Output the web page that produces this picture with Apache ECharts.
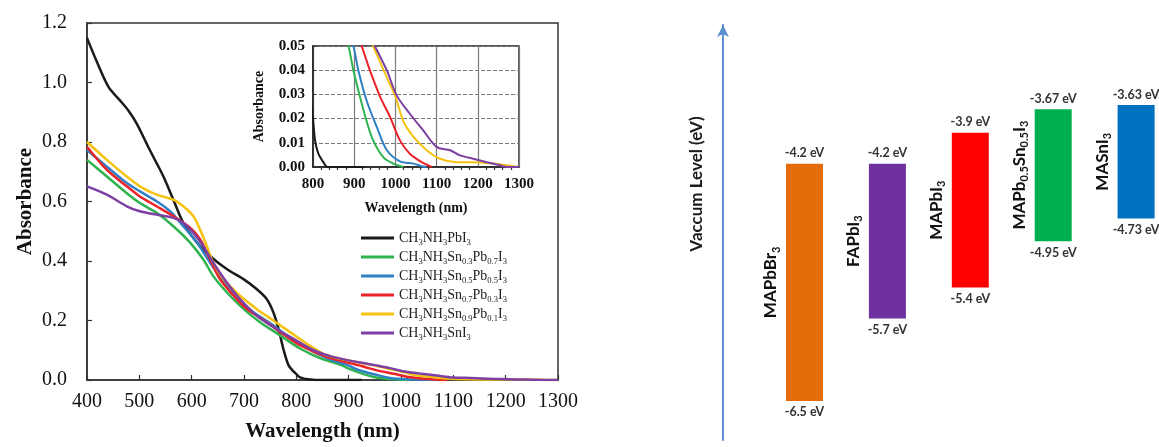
<!DOCTYPE html>
<html>
<head>
<meta charset="utf-8">
<script src="https://cdn.jsdelivr.net/npm/echarts@6.0.0/dist/echarts.min.js"></script>
<style>
html,body{margin:0;padding:0;background:#fff;}
#chart{width:1159px;height:447px;}
</style>
</head>
<body>
<div id="chart"></div>
<script>
// ---------- Absorbance spectra: [wavelength (nm), absorbance] ----------
const seriesNames = ['CH3NH3PbI3','CH3NH3Sn0.3Pb0.7I3','CH3NH3Sn0.5Pb0.5I3','CH3NH3Sn0.7Pb0.3I3','CH3NH3Sn0.9Pb0.1I3','CH3NH3SnI3'];
const specPb = [[400,1.15],[418,1.073],[441,0.985],[463,0.94],[479,0.906],[495,0.862],[520,0.773],[546,0.684],[565,0.606],[584,0.528],[610,0.462],[635,0.417],[667,0.373],[699,0.339],[724,0.306],[743,0.273],[756,0.228],[766,0.172],[775,0.106],[785,0.05],[795,0.028],[800,0.02],[805,0.011],[813,0.0055],[825,0.002],[835,0],[880,0],[925,0]];
const specSn03 = [[400,0.74],[438,0.684],[476,0.628],[501,0.595],[533,0.562],[565,0.517],[597,0.462],[622,0.406],[641,0.35],[667,0.295],[699,0.239],[730,0.195],[769,0.15],[807,0.106],[845,0.074],[886,0.05],[898,0.04],[914,0.029],[930,0.019],[946,0.011],[971,0.004],[995,0.0014],[1019,0]];
const specSn05 = [[400,0.773],[438,0.717],[476,0.662],[501,0.634],[533,0.601],[559,0.567],[584,0.517],[610,0.462],[635,0.395],[661,0.328],[686,0.273],[718,0.228],[756,0.184],[794,0.133],[833,0.095],[866,0.068],[898,0.05],[910,0.04],[930,0.0275],[955,0.0165],[979,0.007],[1011,0.0023],[1044,0.0014],[1064,0.0003],[1076,0]];
const specSn07 = [[400,0.784],[438,0.706],[476,0.651],[501,0.617],[533,0.584],[565,0.551],[597,0.512],[616,0.473],[635,0.406],[654,0.339],[680,0.284],[705,0.239],[743,0.195],[769,0.161],[807,0.117],[858,0.078],[918,0.05],[938,0.04],[963,0.029],[987,0.0207],[1011,0.011],[1035,0.0055],[1064,0.002],[1088,0]];
const specSn09 = [[400,0.80],[438,0.74],[476,0.684],[501,0.651],[533,0.623],[565,0.606],[584,0.584],[603,0.551],[616,0.506],[629,0.45],[641,0.395],[661,0.339],[692,0.284],[724,0.239],[756,0.2],[788,0.161],[820,0.122],[858,0.083],[946,0.05],[979,0.037],[999,0.0296],[1019,0.019],[1044,0.0124],[1076,0.0069],[1108,0.0034],[1149,0.002],[1189,0.002],[1238,0.0014],[1270,0.0007],[1298,0]];
const specSn10 = [[400,0.651],[438,0.623],[476,0.584],[501,0.567],[533,0.556],[565,0.545],[584,0.528],[603,0.495],[622,0.45],[641,0.395],[667,0.328],[692,0.273],[724,0.217],[756,0.178],[794,0.139],[833,0.1],[871,0.077],[950,0.05],[979,0.04],[1003,0.0296],[1035,0.022],[1068,0.015],[1100,0.0083],[1133,0.0069],[1157,0.0048],[1189,0.0034],[1222,0.002],[1254,0.0007],[1270,0],[1300,0]];
const spectra = [specPb, specSn03, specSn05, specSn07, specSn09, specSn10];
const lineColors = ['#1a1a1a','#2fb34e','#2f80c4','#ec2229','#f5c20f','#7c3fa3'];

// ---------- Energy levels (eV) ----------
const materials = ['MAPbBr3','FAPbI3','MAPbI3','MAPb0.5Sn0.5I3','MASnI3'];
const cbm = [-4.2, -4.2, -3.9, -3.67, -3.63];
const vbm = [-6.5, -5.7, -5.4, -4.95, -4.73];
const barColors = ['#e46c0a','#7030a0','#ff0000','#00b050','#0070c0'];

// turn numbers into subscript rich tokens
function richSub(s){
  return s.split(/(\d+(?:\.\d+)?)/).filter(p => p.length).map(p => /^\d/.test(p) ? '{s|' + p + '}' : '{n|' + p + '}').join('');
}

const serif = 'Liberation Serif';
const sans = 'Lato';

const chart = echarts.init(document.getElementById('chart'), null, {renderer: 'canvas'});

const mainSeries = spectra.map((d, i) => ({
  name: seriesNames[i], type: 'line', xAxisIndex: 0, yAxisIndex: 0, data: d,
  showSymbol: false, symbol: 'none', smooth: 0.3, z: 3,
  lineStyle: {color: lineColors[i], width: 2.5}, itemStyle: {color: lineColors[i]}
}));
const insetSeries = spectra.map((d, i) => ({
  name: seriesNames[i], type: 'line', xAxisIndex: 1, yAxisIndex: 1, data: d,
  showSymbol: false, symbol: 'none', smooth: 0.3, clip: true, z: 6,
  lineStyle: {color: lineColors[i], width: 2}, itemStyle: {color: lineColors[i]}
}));

const levelData = materials.map((m, i) => [i, cbm[i], vbm[i]]);

const option = {
  animation: false,
  backgroundColor: '#fff',
  legend: {
    data: seriesNames, orient: 'vertical', left: 356, top: 226,
    itemWidth: 33, itemHeight: 3, itemGap: 3, icon: 'rect',
    formatter: n => richSub(n),
    textStyle: {
      fontFamily: serif, color: '#222',
      rich: {
        n: {fontFamily: serif, fontSize: 14, color: '#222', lineHeight: 18},
        s: {fontFamily: serif, fontSize: 8.5, color: '#222', verticalAlign: 'bottom', lineHeight: 10}
      }
    },
    selectedMode: false
  },
  grid: [
    {left: 87, top: 23, width: 471, height: 359, show: true, borderColor: '#333', borderWidth: 1.5},
    {left: 313, top: 46, width: 206, height: 121, show: true, borderColor: '#222', borderWidth: 1.5},
    {left: 804.5, width: 331.6, top: 81.3, height: 350.6, show: false},
    {left: 723, top: 25, bottom: 7, width: 10, show: false}
  ],
  xAxis: [
    {gridIndex: 0, type: 'value', min: 400, max: 1300, interval: 100,
     name: 'Wavelength (nm)', nameLocation: 'middle', nameGap: 41,
     nameTextStyle: {fontFamily: serif, fontSize: 21, fontWeight: 'bold', color: '#111'},
     axisLine: {show: true, lineStyle: {color: '#333', width: 1.5}},
     axisTick: {show: true, inside: true, length: 5, lineStyle: {color: '#333', width: 1.2}},
     axisLabel: {fontFamily: serif, fontSize: 20, color: '#111', margin: 12, formatter: v => String(v)},
     splitLine: {show: false}},
    {gridIndex: 1, type: 'value', min: 800, max: 1300, interval: 100,
     name: 'Wavelength (nm)', nameLocation: 'middle', nameGap: 34,
     nameTextStyle: {fontFamily: serif, fontSize: 14, fontWeight: 'bold', color: '#111'},
     axisLine: {show: true, lineStyle: {color: '#222', width: 1.5}},
     axisTick: {show: false},
     minorTick: {show: true, splitNumber: 5, length: 3, lineStyle: {color: '#333', width: 1.2}},
     axisLabel: {fontFamily: serif, fontSize: 15, fontWeight: 'bold', color: '#111', margin: 10, formatter: v => String(v)},
     splitLine: {show: true, lineStyle: {color: '#7a7a7a', width: 1.2}}},
    {gridIndex: 2, type: 'value', min: 0, max: 4, show: false},
    {gridIndex: 3, type: 'value', min: 0, max: 1, show: false}
  ],
  yAxis: [
    {gridIndex: 0, type: 'value', min: 0, max: 1.2, interval: 0.2,
     name: 'Absorbance', nameLocation: 'middle', nameGap: 51, nameRotate: 90,
     nameTextStyle: {fontFamily: serif, fontSize: 21, fontWeight: 'bold', color: '#111'},
     axisLine: {show: true, lineStyle: {color: '#333', width: 1.5}},
     axisTick: {show: true, inside: true, length: 5, lineStyle: {color: '#333', width: 1.2}},
     axisLabel: {fontFamily: serif, fontSize: 20, color: '#111', margin: 20, formatter: v => v.toFixed(1)},
     splitLine: {show: false}},
    {gridIndex: 1, type: 'value', min: 0, max: 0.05, interval: 0.01,
     name: 'Absorbance', nameLocation: 'middle', nameGap: 47, nameRotate: 90,
     nameTextStyle: {fontFamily: serif, fontSize: 14, fontWeight: 'bold', color: '#111'},
     axisLine: {show: true, lineStyle: {color: '#222', width: 1.5}},
     axisTick: {show: true, inside: true, length: 3, lineStyle: {color: '#333'}},
     axisLabel: {fontFamily: serif, fontSize: 15, fontWeight: 'bold', color: '#111', margin: 8, formatter: v => v.toFixed(2)},
     splitLine: {show: true, lineStyle: {color: '#7a7a7a', width: 1.2, type: [4, 2]}}},
    {gridIndex: 2, type: 'value', min: -6.8, max: -3.4, show: false},
    {gridIndex: 3, type: 'value', min: 0, max: 1,
     axisLine: {show: true, symbol: ['none', 'arrow'], symbolSize: [9, 12], lineStyle: {color: '#5b8fd0', width: 2}},
     axisTick: {show: false}, axisLabel: {show: false}, splitLine: {show: false}}
  ],
  graphic: [
    {type: 'text', x: 697, y: 184, rotation: Math.PI / 2,
     style: {text: 'Vaccum Level (eV)', fill: '#1a1a1a', fontFamily: sans, fontSize: 17, fontWeight: 'bold', align: 'center', verticalAlign: 'middle'}}
  ],
  series: mainSeries.concat(insetSeries).concat([
    {
      type: 'custom', xAxisIndex: 2, yAxisIndex: 2, data: levelData, clip: false,
      encode: {x: 0, y: [1, 2]},
      renderItem: function (params, api) {
        const i = api.value(0);
        const top = api.coord([i, api.value(1)]);
        const bot = api.coord([i, api.value(2)]);
        const w = 37;
        const cx = top[0];
        return {
          type: 'group',
          children: [
            {type: 'rect', shape: {x: cx - w / 2, y: top[1], width: w, height: bot[1] - top[1]},
             style: {fill: barColors[i]}},
            {type: 'text', x: cx, y: top[1] - 4,
             style: {text: cbm[i] + ' eV', fill: '#333', fontFamily: sans, fontSize: 12.5, fontWeight: 'bold', align: 'center', verticalAlign: 'bottom'}},
            {type: 'text', x: cx, y: bot[1] + 5,
             style: {text: vbm[i] + ' eV', fill: '#333', fontFamily: sans, fontSize: 12.5, fontWeight: 'bold', align: 'center', verticalAlign: 'top'}},
            {type: 'text', x: cx - 34, y: (top[1] + bot[1]) / 2, rotation: Math.PI / 2,
             style: {
               text: richSub(materials[i]), align: 'center', verticalAlign: 'middle',
               rich: {
                 n: {fontFamily: sans, fontSize: 17, fontWeight: 'bold', fill: '#111', lineHeight: 22},
                 s: {fontFamily: sans, fontSize: 11, fontWeight: 'bold', fill: '#111', verticalAlign: 'bottom', lineHeight: 12}
               }
             }}
          ]
        };
      }
    }
  ])
};
chart.setOption(option);
</script>
</body>
</html>
